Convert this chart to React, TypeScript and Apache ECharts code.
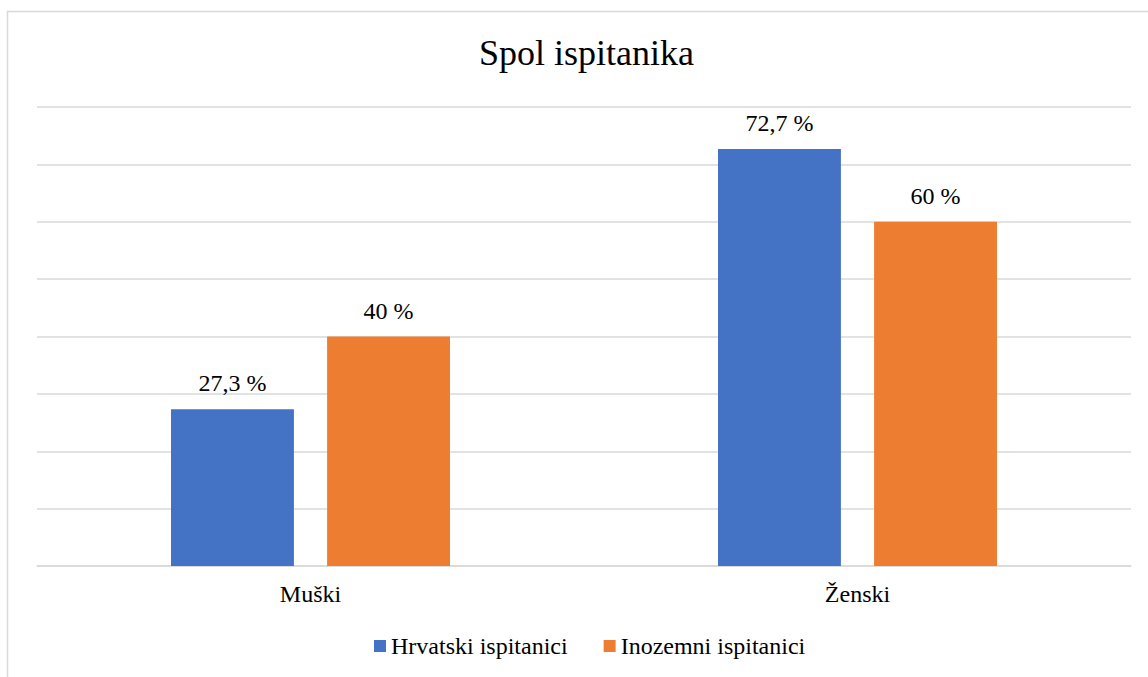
import React, { useEffect, useRef } from "react";
import * as echarts from "echarts";

const categories = ["Muški", "Ženski"];
const hrvatski = [27.3, 72.7];
const inozemni = [40, 60];
const seriesNames = ["Hrvatski ispitanici", "Inozemni ispitanici"];
const titleText = "Spol ispitanika";

const FONT = "Times New Roman, Liberation Serif, Tinos, DejaVu Serif, serif";

export default function App() {
  const ref = useRef<HTMLDivElement>(null);
  useEffect(() => {
    document.body.style.margin = "0";
    const chart = echarts.init(ref.current!, null, { renderer: "svg" });
    const fmt = (p: any) => String(p.value).replace(".", ",") + " %";
    const labelCfg = {
      show: true,
      position: "top",
      distance: 14,
      formatter: fmt,
      fontFamily: FONT,
      fontSize: 24,
      color: "#000",
    };
    chart.setOption({
      animation: false,
      backgroundColor: "#ffffff",
      textStyle: { fontFamily: FONT },
      graphic: [
        {
          type: "rect",
          shape: { x: 7.5, y: 11.5, width: 1300, height: 800 },
          style: { fill: "none", stroke: "#d9d9d9", lineWidth: 1.5 },
          silent: true,
          z: -1,
        },
      ],
      title: {
        text: titleText,
        left: 474,
        top: 30,
        textStyle: { fontFamily: FONT, fontSize: 36, fontWeight: "normal", color: "#000" },
      },
      legend: {
        bottom: 14,
        left: 369,
        itemWidth: 12,
        itemHeight: 12,
        itemGap: 36,
        icon: "rect",
        textStyle: { fontFamily: FONT, fontSize: 24, color: "#000" },
        data: seriesNames,
      },
      grid: { left: 37, right: 17, top: 107, bottom: 111, containLabel: false },
      xAxis: {
        type: "category",
        data: categories,
        axisLine: { lineStyle: { color: "#d9d9d9", width: 1.5 } },
        axisTick: { show: false },
        axisLabel: { fontFamily: FONT, fontSize: 24, color: "#000", margin: 16 },
      },
      yAxis: {
        type: "value",
        min: 0,
        max: 80,
        interval: 10,
        axisLabel: { show: false },
        axisLine: { show: false },
        axisTick: { show: false },
        splitLine: { lineStyle: { color: "#d9d9d9", width: 1.5 } },
      },
      series: [
        {
          name: seriesNames[0],
          type: "bar",
          data: hrvatski,
          itemStyle: { color: "#4472c4" },
          barGap: "27%",
          barCategoryGap: "49%",
          label: labelCfg,
        },
        {
          name: seriesNames[1],
          type: "bar",
          data: inozemni,
          itemStyle: { color: "#ed7d31" },
          barGap: "27%",
          barCategoryGap: "49%",
          label: labelCfg,
        },
      ],
    });
    return () => chart.dispose();
  }, []);
  return <div ref={ref} style={{ width: 1148, height: 677 }} />;
}
